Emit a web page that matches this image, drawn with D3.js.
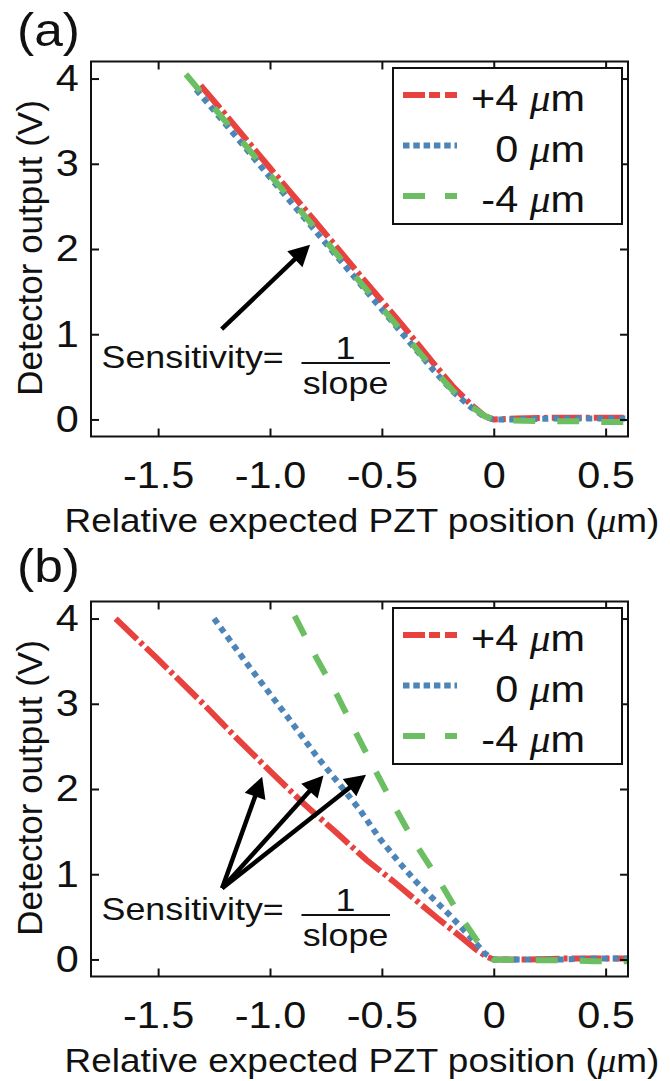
<!DOCTYPE html>
<html lang="en">
  <head>
    <meta charset="UTF-8" />
    <title>Detector output vs PZT position</title>
    <script src="https://d3js.org/d3.v7.min.js"></script>
    <style>
      body {
        margin: 0;
        background: #fff;
      }
      svg text {
        font-family: "Liberation Sans", Arial, sans-serif;
        fill: #111;
      }
      .mu {
        font-family: "Liberation Serif", "DejaVu Serif", serif;
        font-style: italic;
      }
    </style>
  </head>
  <body>
    <div id="chart"></div>

    <script>
      // axis ticks
      const xTicks = [-1.5, -1.0, -0.5, 0, 0.5];
      const xTickLabels = ["-1.5", "-1.0", "-0.5", "0", "0.5"];
      const yTicks = [0, 1, 2, 3, 4];
      const yTickLabels = ["0", "1", "2", "3", "4"];

      // legend
      const seriesNames = ["+4 ", "0 ", "-4 "];
      const seriesColors = ["#e8423f", "#4d85b8", "#6bbf62"];

      // (a) all three curves lie on top of each other
      const aPlus4 = [[-1.31, 3.92], [-1.2, 3.58], [-1.0, 2.95], [-0.8, 2.33], [-0.6, 1.7], [-0.4, 1.08], [-0.27, 0.66], [-0.18, 0.38], [-0.1, 0.17], [-0.04, 0.04], [0, 0.0], [0.1, 0.01], [0.25, 0.02], [0.4, 0.02], [0.6, 0.02]];
      const aZero = [[-1.33, 3.87], [-1.2, 3.47], [-1.0, 2.84], [-0.8, 2.22], [-0.6, 1.6], [-0.4, 0.98], [-0.27, 0.58], [-0.18, 0.32], [-0.1, 0.14], [-0.04, 0.03], [0, 0.0], [0.1, 0.0], [0.25, 0.01], [0.4, 0.01], [0.6, 0.01]];
      const aMinus4 = [[-1.376, 4.05], [-1.2, 3.5], [-1.0, 2.87], [-0.8, 2.25], [-0.6, 1.62], [-0.4, 1.0], [-0.27, 0.59], [-0.18, 0.33], [-0.1, 0.15], [-0.04, 0.04], [0, 0.0], [0.05, -0.01], [0.2, -0.02], [0.35, -0.02], [0.5, -0.03], [0.6, -0.03]];

      // (b) curves separate
      const bPlus4 = [[-1.69, 4.0], [-1.5, 3.52], [-1.31, 3.03], [-1.15, 2.6], [-0.98, 2.16], [-0.85, 1.83], [-0.7, 1.48], [-0.57, 1.17], [-0.45, 0.92], [-0.35, 0.7], [-0.25, 0.48], [-0.15, 0.27], [-0.08, 0.12], [-0.03, 0.03], [0, 0.0], [0.15, 0.0], [0.3, 0.01], [0.45, 0.01], [0.6, 0.01]];
      const bZero = [[-1.25, 4.0], [-1.1, 3.46], [-0.92, 2.84], [-0.79, 2.38], [-0.7, 2.09], [-0.6, 1.76], [-0.51, 1.42], [-0.42, 1.13], [-0.35, 0.92], [-0.27, 0.71], [-0.2, 0.53], [-0.1, 0.25], [-0.04, 0.07], [0, 0.0], [0.15, 0.0], [0.3, 0.0], [0.45, 0.01], [0.6, 0.01]];
      const bMinus4 = [[-0.89, 4.03], [-0.81, 3.62], [-0.7, 3.1], [-0.62, 2.68], [-0.54, 2.27], [-0.46, 1.87], [-0.36, 1.4], [-0.25, 0.95], [-0.15, 0.51], [-0.08, 0.24], [-0.03, 0.07], [0, 0.0], [0.15, -0.01], [0.3, -0.01], [0.45, -0.02], [0.6, -0.02]];

      // arrows: [tailX, tailY, tipX, tipY] in data units
      const aArrows = [[-1.216, 1.06, -0.821, 2.05]];
      const bArrows = [
        [-1.214, 0.835, -1.035, 2.145],
        [-1.214, 0.835, -0.761, 2.157],
        [-1.214, 0.835, -0.571, 2.168],
      ];

      const SX = 1.12; // text in the figure is a bit wide
      const W = 670,
        H = 1081;
      const margin = { top: 61.5, left: 91 },
        pw = 537,
        ph = 375;

      // dash styles: dash-dot, dotted, dashed
      const plotDash = ["30,4,4,4", "6,5", "22,22"];
      const legendDash = ["22,4,11,5", "6.5,3.8", "22,20"];

      const svg = d3
        .select("#chart")
        .append("svg")
        .attr("width", W)
        .attr("height", H);

      function wideText(g, x, y, size, anchor) {
        return g
          .append("g")
          .attr("transform", `translate(${x},${y})`)
          .append("text")
          .attr("transform", `scale(${SX},1)`)
          .style("font-size", size + "px")
          .attr("text-anchor", anchor);
      }

      function muText(t, before, after) {
        t.append("tspan").text(before);
        t.append("tspan").attr("class", "mu").text("\u03bc");
        t.append("tspan").text(after);
      }

      function drawPanel(offsetY, tag, series, arrows, annotShift) {
        const root = svg.append("g").attr("transform", `translate(0,${offsetY})`);

        const x = d3.scaleLinear().domain([-1.8, 0.6]).range([margin.left, margin.left + pw]);
        const y = d3.scaleLinear().domain([-0.2, 4.2]).range([margin.top + ph, margin.top]);

        // panel tag
        wideText(root, 17, tag === "(a)" ? 46 : 42, 46, "start").text(tag);

        // curves
        const line = d3
          .line()
          .x((d) => x(d[0]))
          .y((d) => y(d[1]));
        series.forEach((s, i) => {
          root
            .append("path")
            .datum(s)
            .attr("fill", "none")
            .attr("stroke", seriesColors[i])
            .attr("stroke-width", 6)
            .attr("stroke-dasharray", plotDash[i])
            .attr("d", line);
        });

        // axes, ticks pointing inward
        const styleAxis = (g) => {
          g.select(".domain").remove();
          g.selectAll(".tick line").attr("stroke", "#111").attr("stroke-width", 2);
          g.attr("font-family", null).attr("font-size", null);
          g.selectAll("text")
            .style("font-size", "37px")
            .style("fill", "#111")
            .attr("transform", `scale(${SX},1)`);
        };
        root
          .append("g")
          .attr("transform", `translate(0,${margin.top + ph})`)
          .call(d3.axisBottom(x).tickValues(xTicks).tickFormat((d, i) => xTickLabels[i]).tickSizeInner(-8).tickSizeOuter(0).tickPadding(25))
          .call(styleAxis);
        root
          .append("g")
          .attr("transform", `translate(0,${margin.top})`)
          .call(d3.axisTop(x).tickValues(xTicks).tickFormat("").tickSizeInner(-8).tickSizeOuter(0))
          .call(styleAxis);
        root
          .append("g")
          .attr("transform", `translate(${margin.left},0)`)
          .call(d3.axisLeft(y).tickValues(yTicks).tickFormat((d, i) => yTickLabels[i]).tickSizeInner(-8).tickSizeOuter(0).tickPadding(11))
          .call(styleAxis);
        root
          .append("g")
          .attr("transform", `translate(${margin.left + pw},0)`)
          .call(d3.axisRight(y).tickValues(yTicks).tickFormat("").tickSizeInner(-8).tickSizeOuter(0))
          .call(styleAxis);

        root
          .append("rect")
          .attr("x", margin.left)
          .attr("y", margin.top)
          .attr("width", pw)
          .attr("height", ph)
          .attr("fill", "none")
          .attr("stroke", "#111")
          .attr("stroke-width", 2);

        // axis titles
        muText(wideText(root, 362, 532, 33, "middle"), "Relative expected PZT position (", "m)");
        root
          .append("text")
          .attr("transform", `translate(42,248) rotate(-90)`)
          .style("font-size", "35px")
          .attr("text-anchor", "middle")
          .text("Detector output (V)");

        // legend
        const lg = root.append("g");
        lg.append("rect")
          .attr("x", 393)
          .attr("y", 68)
          .attr("width", 229)
          .attr("height", 156)
          .attr("fill", "#fff")
          .attr("stroke", "#111")
          .attr("stroke-width", 2);
        seriesNames.forEach((name, i) => {
          const ry = 95 + i * 50.5;
          lg.append("line")
            .attr("x1", 403)
            .attr("x2", 457)
            .attr("y1", ry)
            .attr("y2", ry)
            .attr("stroke", seriesColors[i])
            .attr("stroke-width", 6)
            .attr("stroke-dasharray", legendDash[i]);
          muText(wideText(lg, 585, ry + 16, 37, "end"), name, "m");
        });

        // arrows
        arrows.forEach((a) => {
          const x0 = x(a[0]),
            y0 = y(a[1]),
            x1 = x(a[2]),
            y1 = y(a[3]);
          const ang = Math.atan2(y1 - y0, x1 - x0);
          const len = 21,
            hw = 11;
          const bx = x1 - len * Math.cos(ang),
            by = y1 - len * Math.sin(ang);
          root
            .append("line")
            .attr("x1", x0)
            .attr("y1", y0)
            .attr("x2", bx + 4 * Math.cos(ang))
            .attr("y2", by + 4 * Math.sin(ang))
            .attr("stroke", "#000")
            .attr("stroke-width", 4.5);
          const nx = -Math.sin(ang),
            ny = Math.cos(ang);
          root
            .append("path")
            .attr("d", `M${x1},${y1}L${bx + hw * nx},${by + hw * ny}L${bx - hw * nx},${by - hw * ny}Z`)
            .attr("fill", "#000");
        });

        // Sensitivity = 1 / slope
        const sy = 368 + annotShift;
        wideText(root, 101.5, sy, 32, "start").text("Sensitivity=");
        wideText(root, 345.5, sy - 9, 32, "middle").text("1");
        wideText(root, 345.5, sy + 26, 32, "middle").text("slope");
        root
          .append("line")
          .attr("x1", 301.5)
          .attr("x2", 390)
          .attr("y1", sy - 5)
          .attr("y2", sy - 5)
          .attr("stroke", "#111")
          .attr("stroke-width", 2.2);
      }

      drawPanel(0, "(a)", [aPlus4, aZero, aMinus4], aArrows, 0);
      drawPanel(540, "(b)", [bPlus4, bZero, bMinus4], bArrows, 12);
    </script>
  </body>
</html>
